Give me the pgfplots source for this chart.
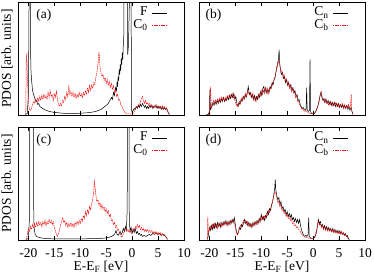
\documentclass[border=0pt]{standalone}
\usepackage{fontspec}
\setmainfont{Liberation Serif}
\usepackage{pgfplots}
\pgfplotsset{compat=1.18}
\definecolor{dred}{RGB}{235,20,20}
\pgfplotsset{
  pdos/.style={
    scale only axis, width=166bp, height=113bp,
    xmin=-22, xmax=10, ymin=-0.6, ymax=113,
    xtick={-20,-15,-10,-5,0,5,10}, ytick=\empty,
    tick align=inside, xtick pos=both, major tick length=4bp,
    axis line style={line width=0.9pt},
    every tick/.style={black, line width=0.6pt},
    xticklabel style={yshift=-5bp},
    xlabel style={yshift=3bp},
    clip=true,
    legend style={draw=none, fill=none, at={(0.898,0.956)}, anchor=north east,
      inner sep=0pt, outer sep=0pt, row sep=0pt,
      nodes={inner sep=0pt, text height=9bp, text depth=3.5bp},
      /tikz/every odd column/.append style={column sep=4bp}},
    legend plot pos=right, legend cell align=right,
    legend image code/.code={\draw[##1] (0bp,0bp) -- (15bp,0bp);},
  },
  ylab/.style={ylabel={PDOS [arb. units]}, ylabel style={at={(rel axis cs:0,0.5)}, anchor=south, inner sep=0pt, yshift=5bp}},
  blk/.style={black, line width=0.5pt},
  rd/.style={dred, line width=0.5pt, dash pattern=on 1.6pt off 0.7pt},
}
\begin{document}
\begin{tikzpicture}[font=\fontsize{13.5bp}{15bp}\selectfont]
\path[use as bounding box] (0,0) rectangle (374bp,-276bp);
% (a)
\begin{axis}[pdos, at={(18bp,-115bp)}, anchor=south west, xticklabels=\empty, ylab]
\addplot[blk] table[row sep=\\]{x y\\
-20.6 0\\ -20.2 1\\ -20.0 20\\ -19.9 80\\ -19.8 200\\ -19.7 200\\ -19.6 70\\ -19.5 45\\ -19.4 35\\ -19.3 30\\ -19.2 24\\ -19.0 20\\ -18.8 17\\ -18.6 13\\ -18.4 14\\ -18.2 10\\ -18.0 11\\ -17.8 8\\ -17.5 7\\ -17.0 5\\ -16.5 4\\ -16.0 3\\ -15.5 2.5\\ -15.0 2\\ -14.0 1.5\\ -13.0 1\\ -12.0 1\\ -11.0 1\\ -10.0 1.2\\ -9.0 1.5\\ -8.0 2\\ -7.0 3\\ -6.5 4\\ -6.0 5\\ -5.5 7\\ -5.0 9\\ -4.6 11\\ -4.3 14\\ -4.0 17\\ -3.8 15\\ -3.6 22\\ -3.4 19\\ -3.2 27\\ -3.0 24\\ -2.9 33\\ -2.8 28\\ -2.7 38\\ -2.6 34\\ -2.5 45\\ -2.4 40\\ -2.3 50\\ -2.2 44\\ -2.1 56\\ -2.0 50\\ -1.9 62\\ -1.8 55\\ -1.7 70\\ -1.6 80\\ -1.5 200\\ -1.35 200\\ -1.3 160\\ -1.2 200\\ -1.0 200\\ -0.9 200\\ -0.85 60\\ -0.7 70\\ -0.5 120\\ -0.35 200\\ -0.2 200\\ -0.15 6\\ -0.05 3\\ 0.0 2\\ 0.2 4\\ 0.4 6\\ 0.6 5\\ 0.8 8\\ 1.0 6\\ 1.2 9\\ 1.4 7\\ 1.6 10\\ 1.8 8\\ 2.0 11\\ 2.2 9\\ 2.4 7\\ 2.6 9\\ 2.8 6\\ 3.0 8\\ 3.2 6\\ 3.4 9\\ 3.6 7\\ 3.8 9\\ 4.0 6\\ 4.2 8\\ 4.4 7\\ 4.6 9\\ 4.8 6\\ 5.0 8\\ 5.2 6\\ 5.4 8\\ 5.6 5\\ 5.8 7\\ 6.0 5\\ 6.2 7\\ 6.4 5\\ 6.6 6\\ 6.8 4\\ 7.0 1\\ 7.2 0\\
};
\addlegendentry{F}
\addplot[rd] table[row sep=\\]{x y\\
-20.6 0\\ -20.5 5\\ -20.4 58\\ -20.3 60\\ -20.2 40\\ -20.1 25\\ -20.0 15\\ -19.9 8\\ -19.8 5\\ -19.6 4\\ -19.4 6\\ -19.2 10\\ -19.0 13\\ -18.8 11\\ -18.6 16\\ -18.4 12\\ -18.2 17\\ -18.0 13\\ -17.8 18\\ -17.6 14\\ -17.4 19\\ -17.2 15\\ -17.0 20\\ -16.8 16\\ -16.6 19\\ -16.4 15\\ -16.2 22\\ -16.0 17\\ -15.8 24\\ -15.6 18\\ -15.4 20\\ -15.2 14\\ -15.0 21\\ -14.8 17\\ -14.6 23\\ -14.4 15\\ -14.2 10\\ -14.0 8\\ -13.8 11\\ -13.6 9\\ -13.4 14\\ -13.2 12\\ -13.0 18\\ -12.8 15\\ -12.6 22\\ -12.4 18\\ -12.2 28\\ -12.0 20\\ -11.8 23\\ -11.6 18\\ -11.4 22\\ -11.2 17\\ -11.0 21\\ -10.8 16\\ -10.6 20\\ -10.4 17\\ -10.2 22\\ -10.0 18\\ -9.8 21\\ -9.6 17\\ -9.4 22\\ -9.2 19\\ -9.0 24\\ -8.8 20\\ -8.6 27\\ -8.4 22\\ -8.2 29\\ -8.0 24\\ -7.8 30\\ -7.6 26\\ -7.4 32\\ -7.2 30\\ -7.0 37\\ -6.8 42\\ -6.6 50\\ -6.5 55\\ -6.4 63\\ -6.3 58\\ -6.2 48\\ -6.0 42\\ -5.8 38\\ -5.6 40\\ -5.4 34\\ -5.2 37\\ -5.0 31\\ -4.8 35\\ -4.6 29\\ -4.4 33\\ -4.2 27\\ -4.0 31\\ -3.8 25\\ -3.6 29\\ -3.4 22\\ -3.2 25\\ -3.0 18\\ -2.8 20\\ -2.6 14\\ -2.4 15\\ -2.2 10\\ -2.0 9\\ -1.8 6\\ -1.6 4\\ -1.4 2\\ -1.2 1\\ -1.0 0.5\\ -0.6 0.5\\ -0.2 0.5\\ 0.2 1\\ 0.4 3\\ 0.6 5\\ 0.8 8\\ 1.0 7\\ 1.2 10\\ 1.4 9\\ 1.6 13\\ 1.8 16\\ 2.0 18\\ 2.2 13\\ 2.4 11\\ 2.6 14\\ 2.8 10\\ 3.0 12\\ 3.2 9\\ 3.4 11\\ 3.6 8\\ 3.8 10\\ 4.0 7\\ 4.2 9\\ 4.4 8\\ 4.6 10\\ 4.8 7\\ 5.0 9\\ 5.2 7\\ 5.4 8\\ 5.6 6\\ 5.8 9\\ 6.0 6\\ 6.2 8\\ 6.4 5\\ 6.6 7\\ 6.8 4\\ 7.0 2\\ 7.2 0\\
};
\addlegendentry{C\textsubscript{0}}
\node[anchor=west] at (rel axis cs:0.09,0.885) {(a)};
\end{axis}
% (b)
\begin{axis}[pdos, at={(199bp,-115bp)}, anchor=south west, xticklabels=\empty]
\addplot[blk] table[row sep=\\]{x y\\
-20.6 0\\ -20.2 0\\ -20.0 3\\ -19.9 25\\ -19.8 5\\ -19.5 8\\ -19.3 12\\ -19.1 9\\ -18.9 13\\ -18.7 10\\ -18.5 14\\ -18.3 11\\ -18.1 15\\ -17.9 12\\ -17.7 16\\ -17.5 13\\ -17.3 17\\ -17.1 13\\ -16.9 16\\ -16.7 14\\ -16.5 18\\ -16.3 15\\ -16.1 19\\ -15.9 16\\ -15.7 20\\ -15.5 17\\ -15.3 21\\ -15.1 15\\ -14.9 18\\ -14.7 11\\ -14.5 8\\ -14.3 12\\ -14.1 10\\ -13.9 15\\ -13.7 13\\ -13.5 18\\ -13.3 15\\ -13.1 20\\ -12.9 17\\ -12.7 22\\ -12.5 28\\ -12.3 20\\ -12.1 22\\ -11.9 17\\ -11.7 20\\ -11.5 15\\ -11.3 19\\ -11.1 14\\ -10.9 18\\ -10.7 15\\ -10.5 20\\ -10.3 17\\ -10.1 23\\ -9.9 19\\ -9.7 26\\ -9.5 28\\ -9.3 22\\ -9.1 26\\ -8.9 21\\ -8.7 25\\ -8.5 22\\ -8.3 28\\ -8.1 26\\ -7.9 32\\ -7.7 30\\ -7.5 36\\ -7.3 38\\ -7.1 45\\ -6.9 50\\ -6.7 55\\ -6.55 65\\ -6.45 52\\ -6.3 45\\ -6.1 40\\ -5.9 42\\ -5.7 36\\ -5.5 38\\ -5.3 32\\ -5.1 35\\ -4.9 29\\ -4.7 32\\ -4.5 27\\ -4.3 30\\ -4.1 24\\ -3.9 27\\ -3.7 22\\ -3.5 24\\ -3.3 18\\ -3.1 20\\ -2.9 14\\ -2.7 15\\ -2.5 10\\ -2.3 8\\ -2.1 6\\ -1.9 7\\ -1.7 5\\ -1.5 4\\ -1.35 6\\ -1.25 27\\ -1.15 5\\ -0.9 3\\ -0.7 4\\ -0.6 55\\ -0.5 3\\ -0.3 1\\ 0.0 0.5\\ 0.3 1\\ 0.6 4\\ 0.9 8\\ 1.1 12\\ 1.3 18\\ 1.5 22\\ 1.7 17\\ 1.9 14\\ 2.1 16\\ 2.3 12\\ 2.5 15\\ 2.7 11\\ 2.9 14\\ 3.1 10\\ 3.3 13\\ 3.5 9\\ 3.7 12\\ 3.9 9\\ 4.1 12\\ 4.3 8\\ 4.5 11\\ 4.7 8\\ 4.9 11\\ 5.1 7\\ 5.3 10\\ 5.5 7\\ 5.7 10\\ 5.9 6\\ 6.1 9\\ 6.3 6\\ 6.5 9\\ 6.7 5\\ 6.9 8\\ 7.1 4\\ 7.3 7\\ 7.5 3\\ 7.7 0\\
};
\addlegendentry{C\textsubscript{n}}
\addplot[rd] table[row sep=\\]{x y\\
-20.3 0\\ -20.0 2\\ -19.8 28\\ -19.6 6\\ -19.4 10\\ -19.2 14\\ -19.0 11\\ -18.8 15\\ -18.6 12\\ -18.4 16\\ -18.2 12\\ -18.0 17\\ -17.8 13\\ -17.6 18\\ -17.4 14\\ -17.2 17\\ -17.0 13\\ -16.8 18\\ -16.6 15\\ -16.4 19\\ -16.2 16\\ -16.0 20\\ -15.8 17\\ -15.6 21\\ -15.4 16\\ -15.2 19\\ -15.0 13\\ -14.8 9\\ -14.6 10\\ -14.4 8\\ -14.2 13\\ -14.0 11\\ -13.8 16\\ -13.6 14\\ -13.4 19\\ -13.2 16\\ -13.0 21\\ -12.8 18\\ -12.6 24\\ -12.4 21\\ -12.2 19\\ -12.0 22\\ -11.8 16\\ -11.6 21\\ -11.4 14\\ -11.2 18\\ -11.0 13\\ -10.8 19\\ -10.6 16\\ -10.4 21\\ -10.2 18\\ -10.0 24\\ -9.8 20\\ -9.6 24\\ -9.4 21\\ -9.2 27\\ -9.0 22\\ -8.8 26\\ -8.6 21\\ -8.4 27\\ -8.2 25\\ -8.0 30\\ -7.8 29\\ -7.6 34\\ -7.4 36\\ -7.2 42\\ -7.0 46\\ -6.8 50\\ -6.6 54\\ -6.4 49\\ -6.2 42\\ -6.0 44\\ -5.8 37\\ -5.6 40\\ -5.4 33\\ -5.2 36\\ -5.0 30\\ -4.8 33\\ -4.6 26\\ -4.4 29\\ -4.2 23\\ -4.0 26\\ -3.8 21\\ -3.6 23\\ -3.4 17\\ -3.2 19\\ -3.0 13\\ -2.8 14\\ -2.6 9\\ -2.4 8\\ -2.2 5\\ -2.0 6\\ -1.8 4\\ -1.6 3\\ -1.4 4\\ -1.2 3\\ -1.0 2\\ -0.6 1\\ -0.2 0.5\\ 0.2 1\\ 0.5 3\\ 0.8 7\\ 1.0 10\\ 1.2 15\\ 1.4 20\\ 1.6 23\\ 1.8 16\\ 2.0 15\\ 2.2 12\\ 2.4 16\\ 2.6 11\\ 2.8 13\\ 3.0 9\\ 3.2 13\\ 3.4 10\\ 3.6 12\\ 3.8 8\\ 4.0 11\\ 4.2 9\\ 4.4 12\\ 4.6 8\\ 4.8 11\\ 5.0 7\\ 5.2 10\\ 5.4 8\\ 5.6 11\\ 5.8 7\\ 6.0 10\\ 6.2 6\\ 6.4 9\\ 6.6 7\\ 6.8 10\\ 7.0 6\\ 7.2 9\\ 7.35 20\\ 7.45 3\\ 7.6 0\\
};
\addlegendentry{C\textsubscript{b}}
\node[anchor=west] at (rel axis cs:0.018,0.885) {(b)};
\end{axis}
% (c)
\begin{axis}[pdos, at={(18bp,-240bp)}, anchor=south west,
  xticklabels={-20,-15,-10,-5,0,5,10},
  xlabel={E-E\textsubscript{F} [eV]}, ylab]
\addplot[blk] table[row sep=\\]{x y\\
-20.5 0\\ -20.0 1\\ -19.8 20\\ -19.7 200\\ -19.4 200\\ -19.1 200\\ -19.0 40\\ -18.9 12\\ -18.7 5\\ -18.4 3\\ -18.0 2\\ -17.0 1\\ -15.0 0.5\\ -10.0 0.5\\ -6.0 1\\ -5.0 1.5\\ -4.5 2\\ -4.0 3\\ -3.6 4\\ -3.3 6\\ -3.1 9\\ -2.9 5\\ -2.7 4\\ -2.5 6\\ -2.3 8\\ -2.1 5\\ -1.9 7\\ -1.7 11\\ -1.5 8\\ -1.3 13\\ -1.1 9\\ -0.95 30\\ -0.85 200\\ -0.65 200\\ -0.55 20\\ -0.4 8\\ -0.2 12\\ 0.0 6\\ 0.2 10\\ 0.4 7\\ 0.6 11\\ 0.8 6\\ 1.0 8\\ 1.2 5\\ 1.4 6\\ 1.6 4\\ 1.8 5\\ 2.0 3\\ 2.3 4\\ 2.6 3\\ 3.0 4\\ 3.3 5\\ 3.6 4\\ 4.0 6\\ 4.3 5\\ 4.6 6\\ 5.0 5\\ 5.3 6\\ 5.6 4\\ 6.0 5\\ 6.3 4\\ 6.6 2\\ 6.8 0\\
};
\addlegendentry{F}
\addplot[rd] table[row sep=\\]{x y\\
-20.4 0\\ -20.2 5\\ -20.0 11\\ -19.8 8\\ -19.6 13\\ -19.4 10\\ -19.2 15\\ -19.0 11\\ -18.8 16\\ -18.6 12\\ -18.4 17\\ -18.2 13\\ -18.0 18\\ -17.8 14\\ -17.6 17\\ -17.4 13\\ -17.2 18\\ -17.0 15\\ -16.8 19\\ -16.6 14\\ -16.4 18\\ -16.2 15\\ -16.0 20\\ -15.8 16\\ -15.6 19\\ -15.4 15\\ -15.2 18\\ -15.0 12\\ -14.8 9\\ -14.6 5\\ -14.4 3\\ -14.2 6\\ -14.0 10\\ -13.8 14\\ -13.6 18\\ -13.4 22\\ -13.2 17\\ -13.0 19\\ -12.8 14\\ -12.6 17\\ -12.4 12\\ -12.2 16\\ -12.0 13\\ -11.8 17\\ -11.6 13\\ -11.4 16\\ -11.2 12\\ -11.0 17\\ -10.8 14\\ -10.6 18\\ -10.4 15\\ -10.2 19\\ -10.0 16\\ -9.8 21\\ -9.6 18\\ -9.4 24\\ -9.2 21\\ -9.0 28\\ -8.8 24\\ -8.6 30\\ -8.4 26\\ -8.2 33\\ -8.0 30\\ -7.8 36\\ -7.6 40\\ -7.4 48\\ -7.3 60\\ -7.2 55\\ -7.0 45\\ -6.8 38\\ -6.6 40\\ -6.4 34\\ -6.2 37\\ -6.0 31\\ -5.8 35\\ -5.6 30\\ -5.4 33\\ -5.2 28\\ -5.0 31\\ -4.8 26\\ -4.6 29\\ -4.4 23\\ -4.2 25\\ -4.0 19\\ -3.8 20\\ -3.6 15\\ -3.4 17\\ -3.2 12\\ -3.0 14\\ -2.8 9\\ -2.6 10\\ -2.4 6\\ -2.2 4\\ -2.0 2\\ -1.8 4\\ -1.6 7\\ -1.4 9\\ -1.2 11\\ -1.0 8\\ -0.8 10\\ -0.6 7\\ -0.4 9\\ -0.2 6\\ 0.0 8\\ 0.2 11\\ 0.4 9\\ 0.6 13\\ 0.8 11\\ 1.0 15\\ 1.2 12\\ 1.4 14\\ 1.6 10\\ 1.8 12\\ 2.0 9\\ 2.2 11\\ 2.4 8\\ 2.6 10\\ 2.8 8\\ 3.0 10\\ 3.2 7\\ 3.4 9\\ 3.6 7\\ 3.8 9\\ 4.0 6\\ 4.2 8\\ 4.4 6\\ 4.6 8\\ 4.8 5\\ 5.0 7\\ 5.2 5\\ 5.4 7\\ 5.6 4\\ 5.8 6\\ 6.0 4\\ 6.2 5\\ 6.4 3\\ 6.6 2\\ 6.8 0\\
};
\addlegendentry{C\textsubscript{0}}
\node[anchor=west] at (rel axis cs:0.09,0.885) {(c)};
\end{axis}
% (d)
\begin{axis}[pdos, at={(199bp,-240bp)}, anchor=south west,
  xticklabels={-20,-15,-10,-5,0,5,10},
  xlabel={E-E\textsubscript{F} [eV]}]
\addplot[blk] table[row sep=\\]{x y\\
-20.4 0\\ -20.2 4\\ -20.0 12\\ -19.8 9\\ -19.6 14\\ -19.4 10\\ -19.2 15\\ -19.0 11\\ -18.8 16\\ -18.6 12\\ -18.4 17\\ -18.2 13\\ -18.0 16\\ -17.8 12\\ -17.6 17\\ -17.4 14\\ -17.2 18\\ -17.0 15\\ -16.8 19\\ -16.6 14\\ -16.4 18\\ -16.2 15\\ -16.0 19\\ -15.8 16\\ -15.6 20\\ -15.4 17\\ -15.2 22\\ -15.0 15\\ -14.8 8\\ -14.6 5\\ -14.4 7\\ -14.2 12\\ -14.0 10\\ -13.8 15\\ -13.6 13\\ -13.4 17\\ -13.2 20\\ -13.0 16\\ -12.8 18\\ -12.6 14\\ -12.4 17\\ -12.2 13\\ -12.0 16\\ -11.8 12\\ -11.6 17\\ -11.4 14\\ -11.2 18\\ -11.0 15\\ -10.8 19\\ -10.6 16\\ -10.4 21\\ -10.2 18\\ -10.0 25\\ -9.8 20\\ -9.6 23\\ -9.4 19\\ -9.2 24\\ -9.0 22\\ -8.8 28\\ -8.6 25\\ -8.4 31\\ -8.2 29\\ -8.0 35\\ -7.8 38\\ -7.6 44\\ -7.4 52\\ -7.3 60\\ -7.2 50\\ -7.0 44\\ -6.8 40\\ -6.6 42\\ -6.4 35\\ -6.2 38\\ -6.0 31\\ -5.8 33\\ -5.6 28\\ -5.4 30\\ -5.2 25\\ -5.0 28\\ -4.8 23\\ -4.6 26\\ -4.4 22\\ -4.2 25\\ -4.0 20\\ -3.8 22\\ -3.6 18\\ -3.4 21\\ -3.2 17\\ -3.0 20\\ -2.8 16\\ -2.6 20\\ -2.4 13\\ -2.2 9\\ -2.0 6\\ -1.8 4\\ -1.6 3\\ -1.4 4\\ -1.2 3\\ -1.0 4\\ -0.85 22\\ -0.75 3\\ -0.6 2\\ -0.3 1\\ 0.0 0.5\\ 0.3 2\\ 0.6 6\\ 0.8 12\\ 1.0 20\\ 1.2 16\\ 1.4 18\\ 1.6 13\\ 1.8 15\\ 2.0 11\\ 2.2 14\\ 2.4 10\\ 2.6 13\\ 2.8 9\\ 3.0 12\\ 3.2 9\\ 3.4 11\\ 3.6 8\\ 3.8 11\\ 4.0 7\\ 4.2 10\\ 4.4 7\\ 4.6 9\\ 4.8 6\\ 5.0 9\\ 5.2 6\\ 5.4 8\\ 5.6 5\\ 5.8 7\\ 6.0 4\\ 6.2 6\\ 6.4 3\\ 6.6 4\\ 6.8 1\\ 7.0 0\\
};
\addlegendentry{C\textsubscript{n}}
\addplot[rd] table[row sep=\\]{x y\\
-20.4 0\\ -20.3 23\\ -20.2 6\\ -20.0 10\\ -19.8 13\\ -19.6 10\\ -19.4 15\\ -19.2 11\\ -19.0 16\\ -18.8 12\\ -18.6 15\\ -18.4 11\\ -18.2 16\\ -18.0 13\\ -17.8 17\\ -17.6 13\\ -17.4 16\\ -17.2 14\\ -17.0 18\\ -16.8 15\\ -16.6 17\\ -16.4 14\\ -16.2 18\\ -16.0 15\\ -15.8 19\\ -15.6 17\\ -15.4 20\\ -15.2 18\\ -15.0 12\\ -14.8 7\\ -14.6 4\\ -14.4 8\\ -14.2 11\\ -14.0 14\\ -13.8 12\\ -13.6 16\\ -13.4 19\\ -13.2 17\\ -13.0 19\\ -12.8 15\\ -12.6 18\\ -12.4 13\\ -12.2 16\\ -12.0 12\\ -11.8 16\\ -11.6 13\\ -11.4 17\\ -11.2 14\\ -11.0 18\\ -10.8 15\\ -10.6 19\\ -10.4 17\\ -10.2 22\\ -10.0 19\\ -9.8 23\\ -9.6 20\\ -9.4 24\\ -9.2 21\\ -9.0 26\\ -8.8 24\\ -8.6 29\\ -8.4 27\\ -8.2 32\\ -8.0 34\\ -7.8 39\\ -7.6 44\\ -7.4 48\\ -7.2 46\\ -7.0 42\\ -6.8 37\\ -6.6 39\\ -6.4 33\\ -6.2 35\\ -6.0 29\\ -5.8 31\\ -5.6 26\\ -5.4 28\\ -5.2 23\\ -5.0 25\\ -4.8 21\\ -4.6 23\\ -4.4 19\\ -4.2 21\\ -4.0 16\\ -3.8 18\\ -3.6 14\\ -3.4 15\\ -3.2 12\\ -3.0 13\\ -2.8 10\\ -2.6 9\\ -2.4 7\\ -2.2 5\\ -2.0 4\\ -1.8 3\\ -1.5 2\\ -1.0 1.5\\ -0.5 1\\ 0.0 1\\ 0.3 3\\ 0.6 8\\ 0.8 14\\ 1.0 18\\ 1.2 14\\ 1.4 16\\ 1.6 12\\ 1.8 14\\ 2.0 10\\ 2.2 13\\ 2.4 9\\ 2.6 12\\ 2.8 8\\ 3.0 11\\ 3.2 8\\ 3.4 10\\ 3.6 7\\ 3.8 10\\ 4.0 7\\ 4.2 9\\ 4.4 6\\ 4.6 9\\ 4.8 6\\ 5.0 8\\ 5.2 5\\ 5.4 8\\ 5.6 5\\ 5.8 7\\ 6.0 4\\ 6.2 6\\ 6.4 3\\ 6.6 2\\ 6.8 0\\
};
\addlegendentry{C\textsubscript{b}}
\node[anchor=west] at (rel axis cs:0.018,0.885) {(d)};
\end{axis}
\end{tikzpicture}
\end{document}
